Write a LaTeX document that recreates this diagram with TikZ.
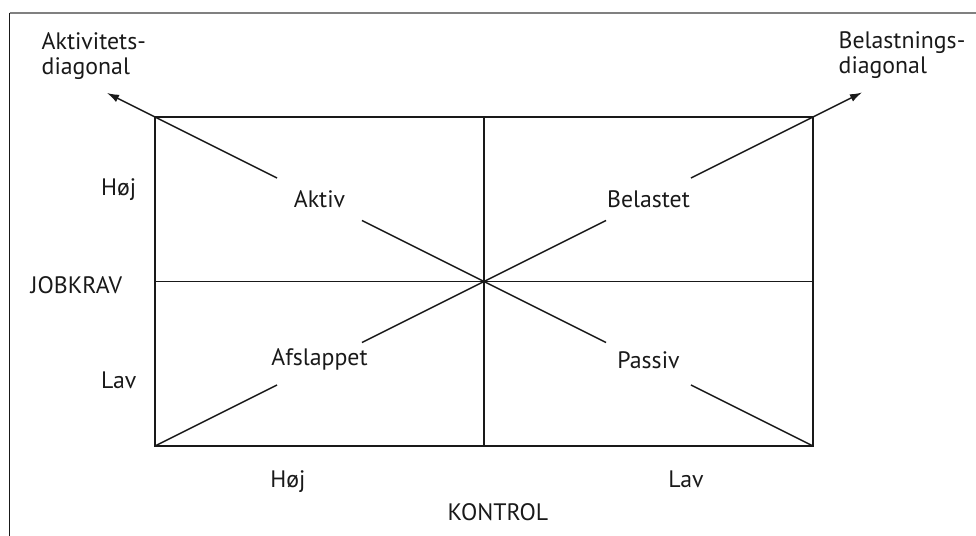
\documentclass[tikz,border=0pt]{standalone}
\usepackage{fontspec}
\setmainfont{PT Sans}
\usepackage{tikz}
\usetikzlibrary{positioning,calc,arrows.meta}

\begin{document}
\begin{tikzpicture}[x=0.5pt, y=-0.5pt, line width=0.7pt, color=black!90,
    font=\fontsize{11.9}{12.5}\selectfont,
    txt/.style={inner sep=0pt},
    cut start/.style={shorten <=23.75pt},
    cut end/.style={shorten >=23.75pt},
    diag/.style={-{Latex[length=6pt,width=4pt]}}]
    \useasboundingbox (0,0) rectangle (976,536);

    % frame
    \draw[gray, line width=1pt] (9.5,12.5) -- (976,12.5);
    \draw (9.5,12.5) -- (9.5,536);

    % the grid
    \coordinate (nw) at (155,117);
    \coordinate (ne) at (813,117);
    \coordinate (sw) at (155,446);
    \coordinate (se) at (813,446);
    \coordinate (c) at ($(nw)!0.5!(se)$);
    \draw (nw) rectangle (se);
    \draw (nw -| c) -- (sw -| c);
    \draw (nw |- c) -- (ne |- c);

    \coordinate (aktiv) at ($(nw)!0.5!(c)$);
    \coordinate (belastet) at ($(ne)!0.5!(c)$);
    \coordinate (afslappet) at ($(sw)!0.5!(c)$);
    \coordinate (passiv) at ($(se)!0.5!(c)$);
    \coordinate (akttip) at ($(nw)+(-48,-24)$);
    \coordinate (beltip) at ($(ne)+(49,-24.5)$);

    \node (aktivlbl) at (aktiv) {Aktiv};
    \node (belastetlbl) at (belastet) {Belastet};
    \node (afslappetlbl) at ($(afslappet)+(0,-4)$) {Afslappet};
    \node (passivlbl) at ($(passiv)+(0,-4)$) {Passiv};

    % diagonals
    \draw[cut end] (sw) -- (afslappet);
    \draw[cut start, cut end] (afslappet) -- (belastet);
    \draw[cut start, diag] (belastet) -- (beltip);
    \draw[cut end] (se) -- (passiv);
    \draw[cut start, cut end] (passiv) -- (aktiv);
    \draw[cut start, diag] (aktiv) -- (akttip);

    \node (aktdiag) [txt, anchor=north west, align=left] at (41,32) {Aktivitets-\\diagonal};
    \node (beldiag) [txt, anchor=north west, align=left] at (838,31) {Belastnings-\\diagonal};

    % axes
    \node (kravhoj) [txt, anchor=base east] at (137,195) {Høj};
    \node (jobkrav) [txt, anchor=base west] at (30,293) {JOBKRAV};
    \node (kravlav) [txt, anchor=base east] at (137,388) {Lav};
    \node (konhoj) [txt, anchor=base] at (288,487) {Høj};
    \node (konlav) [txt, anchor=base] at (686,487) {Lav};
    \node (kontrol) [txt, anchor=base] at (498,520) {KONTROL};

\end{tikzpicture}
\end{document}
